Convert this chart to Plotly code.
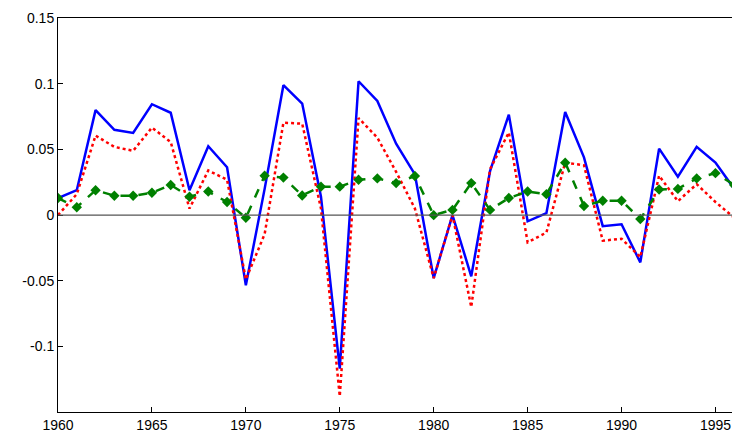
import plotly.graph_objects as go

years = list(range(1960, 1997))
blue = [0.013,0.019,0.080,0.065,0.0626,0.0845,0.078,0.019,0.0525,0.0365,-0.0535,0.02,0.099,0.085,0.014,-0.117,0.102,0.087,0.0544,0.031,
        -0.048,0.0,-0.0466,0.0335,0.0766,-0.0047,0.0015,0.0786,0.044,-0.0084,-0.007,-0.036,0.0507,0.0293,0.052,0.040,0.020]
red = [0.0,0.016,0.0606,0.052,0.049,0.0667,0.0557,0.005,0.034,0.027,-0.049,-0.0145,0.0704,0.0697,0.005,-0.138,0.074,0.059,0.033,0.005,
       -0.048,0.0,-0.070,0.035,0.063,-0.0207,-0.0133,0.040,0.038,-0.0195,-0.018,-0.032,0.030,0.0106,0.0236,0.010,-0.002]
green = [0.013,0.006,0.019,0.0148,0.0148,0.017,0.023,0.014,0.018,0.010,-0.002,0.030,0.0286,0.015,0.0217,0.0217,0.027,0.028,0.0244,0.0298,
         0.0,0.004,0.0244,0.004,0.013,0.018,0.016,0.040,0.007,0.011,0.011,-0.003,0.0195,0.020,0.028,0.032,0.023]
yticks = [-0.1,-0.05,0,0.05,0.1,0.15]
ytext = ["-0.1","-0.05","0","0.05","0.1","0.15"]

fig = go.Figure()
fig.add_hline(y=0, line=dict(color="#555555", width=1.2))
fig.add_trace(go.Scatter(x=years, y=blue, mode="lines", line=dict(color="#0000ff", width=2.5)))
fig.add_trace(go.Scatter(x=years, y=red, mode="lines", line=dict(color="#ff0000", width=2.5, dash="dot")))
fig.add_trace(go.Scatter(x=years, y=green, mode="lines+markers",
                         line=dict(color="#008000", width=2.5, dash="dash"),
                         marker=dict(symbol="diamond", size=8, color="#008000")))
ax = dict(showline=True, linecolor="black", linewidth=1, mirror=True, ticks="inside",
          ticklen=5, tickcolor="black", showgrid=False, zeroline=False,
          tickfont=dict(family="Arial, Liberation Sans", size=14, color="black"))
fig.update_xaxes(range=[1960, 1996.2], tickvals=[1960,1965,1970,1975,1980,1985,1990,1995], **ax)
fig.update_yaxes(range=[-0.15, 0.1502], tickvals=yticks, ticktext=ytext, **ax)
fig.update_layout(width=732, height=437, showlegend=False, plot_bgcolor="white", paper_bgcolor="white",
                  margin=dict(l=50, r=2, t=10, b=33))
fig.write_html("out.html")
